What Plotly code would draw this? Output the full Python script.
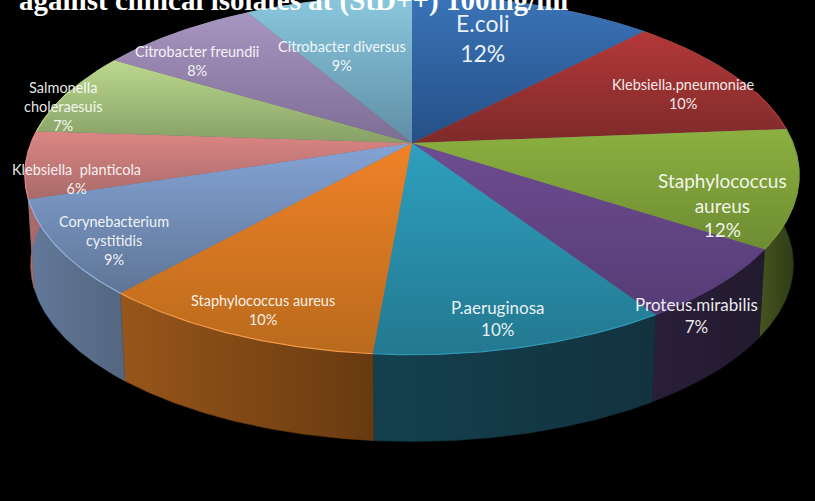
import numpy as np
import plotly.graph_objects as go

# Names and percentages as printed on the slices
categories = ["E.coli", "Klebsiella.pneumoniae", "Staphylococcus<br>aureus", "Proteus.mirabilis",
              "P.aeruginosa", "Staphylococcus aureus", "Corynebacterium<br>cystitidis",
              "Klebsiella  planticola", "Salmonella<br>choleraesuis", "Citrobacter freundii",
              "Citrobacter diversus"]
printed_percent = [12, 10, 12, 7, 10, 10, 9, 6, 7, 8, 9]
# Share of the circle each slice occupies as drawn in the picture
slice_shares = [12.1, 11.6, 10.6, 6.55, 10.5, 10.2, 8.5, 6.05, 7.6, 8.0, 8.3]

# Styles
top_light = ["#3a74b8", "#b43838", "#8cb040", "#6e4c92", "#2ea0bf", "#f08228", "#84a4d6", "#dc8684", "#bcd88e", "#a896c2", "#8ac8de"]
top_dark = ["#254f86", "#7e2a2a", "#6e8c32", "#553c75", "#237890", "#b96a1c", "#5f7596", "#a86a6a", "#86a066", "#7d6c92", "#5f8ea6"]
wall_left = ["#254f86", "#7e2a2a", "#465420", "#2a1f3a", "#14404e", "#98561a", "#63799a", "#a86a6a", "#86a066", "#7d6c92", "#5f8ea6"]
wall_right = ["#254f86", "#7e2a2a", "#2c3814", "#221a2e", "#12323e", "#683a10", "#54667f", "#a86a6a", "#86a066", "#7d6c92", "#5f8ea6"]
rim = ["#3a74b8", "#b43838", "#7c9c3a", "#5a3e7a", "#2f98b6", "#f49a48", "#94b4e0", "#dc8684", "#bcd88e", "#a896c2", "#8ac8de"]
font_sizes = [23, 14.5, 19, 17, 17, 14.5, 14.5, 14.5, 14.5, 14.5, 14.5]
label_x = [482, 683, 722, 696, 497, 263, 114, 76, 63, 197, 342]
label_y = [38, 94, 205, 315, 318, 310, 240, 179, 106, 61, 56]

# Projection of the tilted disc
CX, CY = 412, 143
A, B, K = 381, 174, 0.178
DEPTH, BOTTOM_SCALE = 90, 0.985


def project(theta, scale=1.0, drop=0.0):
    d = 1 + K * np.cos(theta)
    return CX + scale * A * np.sin(theta) / d, CY + scale * B * np.cos(theta) * -1 / d + drop


shares = np.array(slice_shares) / sum(slice_shares) * 2 * np.pi
ends = np.cumsum(shares)
starts = ends - shares
VIS_A, VIS_B = np.radians(72), np.radians(288)

fig = go.Figure()

# Side walls first
for i in range(len(categories)):
    a, b = max(starts[i], VIS_A), min(ends[i], VIS_B)
    if b <= a:
        continue
    t = np.linspace(a, b, 80)
    x1, y1 = project(t)
    x2, y2 = project(t[::-1], BOTTOM_SCALE, DEPTH)
    fig.add_trace(go.Scatter(
        x=np.r_[x1, x2, x1[0]], y=np.r_[y1, y2, y1[0]], mode="lines", line=dict(width=0.6, color=wall_right[i]),
        fill="toself", hoverinfo="skip", showlegend=False,
        fillgradient=dict(type="horizontal",
                          colorscale=[[0, wall_left[i]], [1, wall_right[i]]])))

# Neutral disc under the top face so the joins between slices do not show black
t_all = np.linspace(0, 2 * np.pi, 240)
xd, yd = project(t_all)
fig.add_trace(go.Scatter(x=xd, y=yd, mode="lines", line=dict(width=0), fill="toself",
                         fillcolor="#6a6a78", hoverinfo="skip", showlegend=False))

# Top face
for i in range(len(categories)):
    t = np.linspace(starts[i], ends[i], 80)
    x, y = project(t)
    fig.add_trace(go.Scatter(
        x=np.r_[CX, x, CX], y=np.r_[CY, y, CY], mode="lines", line=dict(width=0),
        fill="toself", hoverinfo="skip", showlegend=False,
        fillgradient=dict(type="vertical",
                          colorscale=[[0, top_dark[i]], [1, top_light[i]]])))

# Highlight along the front rim
for i in range(len(categories)):
    a, b = max(starts[i], VIS_A), min(ends[i], VIS_B)
    if b <= a:
        continue
    t = np.linspace(a, b, 60)
    x, y = project(t)
    fig.add_trace(go.Scatter(x=x, y=y, mode="lines", line=dict(width=1.2, color=rim[i]),
                             hoverinfo="skip", showlegend=False))

for i, name in enumerate(categories):
    fig.add_annotation(x=label_x[i], y=label_y[i], text=f"{name}<br>{printed_percent[i]}%", showarrow=False,
                       align="center", xanchor="center", yanchor="middle",
                       font=dict(family="Lato", size=font_sizes[i], color="rgba(255,255,255,0.92)"))

fig.add_annotation(x=17, y=0, text="<b>against clinical isolates at (StD++) 100mg/ml</b>", showarrow=False,
                   xanchor="left", yanchor="middle",
                   font=dict(family="Liberation Serif", size=29, color="white"))

fig.update_layout(
    width=815, height=501, margin=dict(l=0, r=0, t=0, b=0),
    paper_bgcolor="black", plot_bgcolor="black",
    xaxis=dict(range=[0, 815], visible=False),
    yaxis=dict(range=[501, 0], visible=False),
)
fig.write_html("out.html", config=dict(displayModeBar=False),
               post_script="document.body.style.margin='0';document.body.style.background='black';"
                           "document.documentElement.style.overflow='hidden';")
